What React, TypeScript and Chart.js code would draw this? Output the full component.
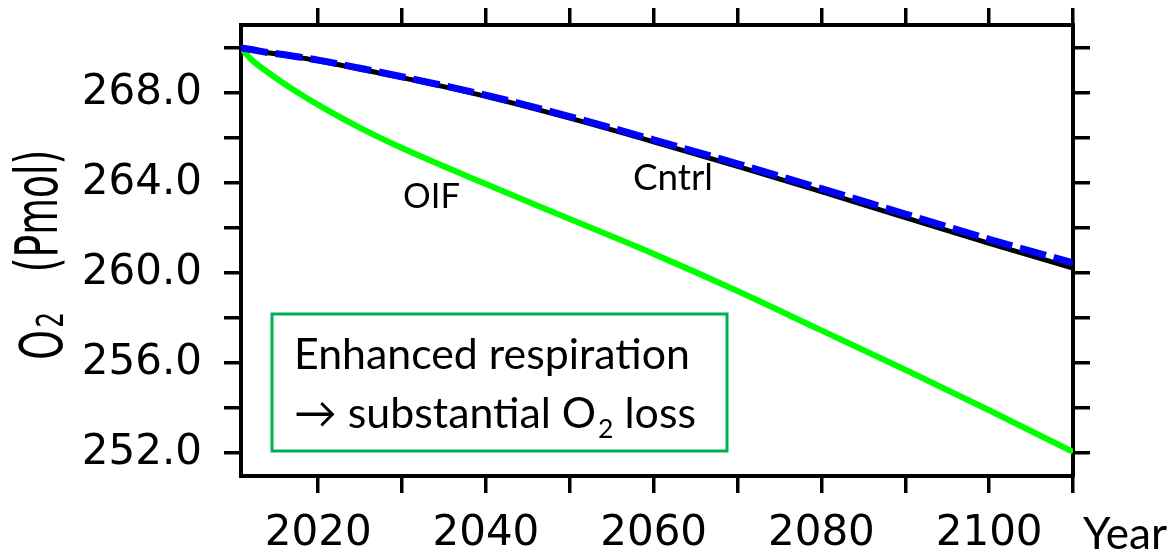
import React, { useEffect, useRef } from 'react';
import { Chart, registerables } from 'chart.js';

Chart.register(...registerables);

// ---- data ----
const years = [2010.8, 2012, 2014, 2016, 2018, 2020, 2025, 2030, 2040, 2050, 2060, 2070, 2080, 2090, 2100, 2110];
const cntrlDashed = [270.0, 269.93, 269.8, 269.7, 269.58, 269.46, 269.1, 268.72, 267.9, 266.95, 265.92, 264.85, 263.75, 262.62, 261.5, 260.45];
const cntrl = [270.0, 269.92, 269.79, 269.68, 269.56, 269.43, 269.06, 268.68, 267.85, 266.88, 265.83, 264.74, 263.62, 262.46, 261.32, 260.22];
const oif = [270.0, 269.5, 268.92, 268.4, 267.92, 267.47, 266.45, 265.55, 263.95, 262.4, 260.85, 259.2, 257.45, 255.7, 253.9, 252.05];

const xTickValues = [2020, 2030, 2040, 2050, 2060, 2070, 2080, 2090, 2100, 2110];
const xLabelValues = [2020, 2040, 2060, 2080, 2100];
const yTickValues = [252, 254, 256, 258, 260, 262, 264, 266, 268, 270];
const yLabelValues = [252, 256, 260, 264, 268];
const xMin = 2010.8;
const xMax = 2110;
const yMin = 250.98;
const yMax = 271.02;

const boxLines = ['Enhanced respiration', '\u2192 substantial O', '2', ' loss'];

const AXIS_FONT = 'DejaVu Sans';
const NOTE_FONT = 'Lato';

function fitSize(ctx: CanvasRenderingContext2D, text: string, family: string, width: number) {
  ctx.font = `100px "${family}"`;
  const w = ctx.measureText(text).width;
  return (100 * width) / w;
}

const notesPlugin = {
  id: 'notes',
  afterDraw(chart: any) {
    const ctx: CanvasRenderingContext2D = chart.ctx;
    ctx.save();
    ctx.fillStyle = '#000';
    ctx.textBaseline = 'alphabetic';
    ctx.textAlign = 'left';

    // y-axis title: O2 (Pmol), rotated, condensed
    const sx = 0.65;
    const drawRot = (text: string, size: number, cx: number, cy: number) => {
      ctx.save();
      ctx.translate(cx, cy);
      ctx.rotate(-Math.PI / 2);
      ctx.scale(sx, 1);
      ctx.font = `${size}px "${AXIS_FONT}"`;
      ctx.textAlign = 'center';
      ctx.fillText(text, 0, 0);
      ctx.restore();
    };
    drawRot('O', 58, 62, 345);
    drawRot('2', 38, 63, 320);
    drawRot('(Pmol)', 58, 57, 211);

    // box
    const bx = 272, by = 314, bw = 455, bh = 137;
    ctx.fillStyle = '#fff';
    ctx.fillRect(bx, by, bw, bh);
    ctx.strokeStyle = '#00b050';
    ctx.lineWidth = 3;
    ctx.strokeRect(bx, by, bw, bh);
    ctx.fillStyle = '#000';

    const s1 = fitSize(ctx, boxLines[0], NOTE_FONT, 396);
    ctx.font = `${s1}px "${NOTE_FONT}"`;
    ctx.fillText(boxLines[0], 294, 369);
    let x = 294;
    ctx.fillText(boxLines[1], x, 428);
    x += ctx.measureText(boxLines[1]).width + 2;
    ctx.font = `${s1 * 0.62}px "${NOTE_FONT}"`;
    ctx.fillText(boxLines[2], x, 438);
    x += ctx.measureText(boxLines[2]).width;
    ctx.font = `${s1}px "${NOTE_FONT}"`;
    ctx.fillText(boxLines[3], x, 428);

    // curve labels
    const sC = fitSize(ctx, 'Cntrl', NOTE_FONT, 80);
    ctx.font = `${sC}px "${NOTE_FONT}"`;
    ctx.fillText('Cntrl', 633, 190);
    const sO = fitSize(ctx, 'OIF', NOTE_FONT, 57);
    ctx.font = `${sO}px "${NOTE_FONT}"`;
    ctx.fillText('OIF', 403, 208);

    // x-axis title
    const sY = fitSize(ctx, 'Year', NOTE_FONT, 84);
    ctx.font = `${sY}px "${NOTE_FONT}"`;
    ctx.fillText('Year', 1083, 549);
    ctx.restore();
  },
};

const tickGrid = {
  drawOnChartArea: false,
  drawTicks: true,
  tickLength: 17,
  tickWidth: 3.5,
  tickColor: '#000',
  color: '#000',
  lineWidth: 3.5,
};
const frameBorder = { display: true, color: '#000', width: 4 };
const axisFont = { family: AXIS_FONT, size: 42 };

export default function App() {
  const canvasRef = useRef<HTMLCanvasElement | null>(null);

  useEffect(() => {
    const canvas = canvasRef.current;
    if (!canvas) return;
    const setXTicks = (a: any) => {
      a.ticks = xTickValues.map((v) => ({ value: v }));
    };
    const setYTicks = (a: any) => {
      a.ticks = yTickValues.map((v) => ({ value: v }));
    };
    const chart = new Chart(canvas, {
      type: 'line',
      data: {
        datasets: [
          {
            label: 'Cntrl (dashed)',
            data: years.map((yr, i) => ({ x: yr, y: cntrlDashed[i] })),
            borderColor: '#0000ff',
            borderWidth: 7,
            borderDash: [27, 8],
            pointRadius: 0,
            cubicInterpolationMode: 'monotone',
          },
          {
            label: 'Cntrl',
            data: years.map((yr, i) => ({ x: yr, y: cntrl[i] })),
            borderColor: '#000000',
            borderWidth: 5,
            pointRadius: 0,
            cubicInterpolationMode: 'monotone',
          },
          {
            label: 'OIF',
            data: years.map((yr, i) => ({ x: yr, y: oif[i] })),
            borderColor: '#00ff00',
            borderWidth: 6,
            pointRadius: 0,
            cubicInterpolationMode: 'monotone',
          },
        ],
      },
      options: {
        responsive: false,
        animation: false,
        events: [],
        layout: { padding: 0 },
        plugins: { legend: { display: false }, tooltip: { enabled: false }, title: { display: false } },
        scales: {
          x: {
            type: 'linear',
            position: 'bottom',
            min: xMin,
            max: xMax,
            afterBuildTicks: setXTicks,
            ticks: {
              autoSkip: false,
              maxRotation: 0,
              color: '#000',
              font: axisFont,
              padding: 16,
              callback: (v: any) => (xLabelValues.includes(Number(v)) ? String(v) : ''),
            },
            grid: tickGrid,
            border: frameBorder,
            afterFit: (s: any) => {
              s.height = 80;
              s.paddingLeft = 0;
              s.paddingRight = 0;
            },
          },
          x2: {
            type: 'linear',
            position: 'top',
            min: xMin,
            max: xMax,
            afterBuildTicks: setXTicks,
            ticks: { display: false },
            grid: tickGrid,
            border: frameBorder,
            afterFit: (s: any) => {
              s.height = 25;
              s.paddingLeft = 0;
              s.paddingRight = 0;
            },
          },
          y: {
            type: 'linear',
            position: 'left',
            min: yMin,
            max: yMax,
            afterBuildTicks: setYTicks,
            ticks: {
              autoSkip: false,
              color: '#000',
              font: axisFont,
              padding: 22,
              callback: (v: any) => (yLabelValues.includes(Number(v)) ? Number(v).toFixed(1) : ''),
            },
            grid: tickGrid,
            border: frameBorder,
            afterFit: (s: any) => {
              s.width = 241;
              s.paddingTop = 0;
              s.paddingBottom = 0;
            },
          },
          y2: {
            type: 'linear',
            position: 'right',
            min: yMin,
            max: yMax,
            afterBuildTicks: setYTicks,
            ticks: { display: false },
            grid: tickGrid,
            border: frameBorder,
            afterFit: (s: any) => {
              s.width = 102;
              s.paddingTop = 0;
              s.paddingBottom = 0;
            },
          },
        },
      },
      plugins: [notesPlugin],
    } as any);
    return () => chart.destroy();
  }, []);

  return (
    <div style={{ position: 'absolute', left: 0, top: 0, width: 1175, height: 556, background: '#fff' }}>
      <canvas ref={canvasRef} width={1175} height={556} style={{ display: 'block' }} />
    </div>
  );
}
